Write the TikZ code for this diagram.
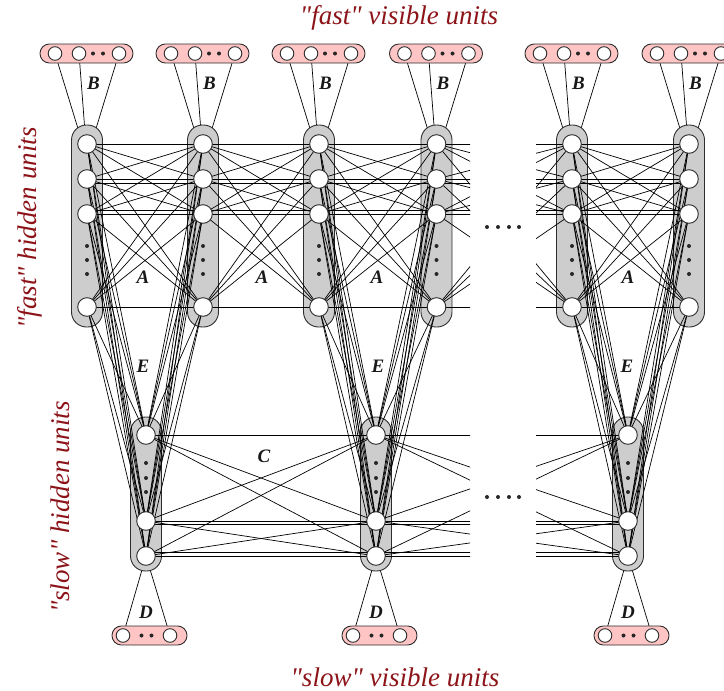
\documentclass[tikz,border=0pt]{standalone}
\usepackage{fontspec}
\setmainfont{Liberation Serif}[Ligatures=TeXOff]
\definecolor{titlered}{RGB}{140,20,25}
\definecolor{pinkfill}{RGB}{255,196,196}
\definecolor{colgray}{RGB}{205,205,205}
\definecolor{edgec}{RGB}{45,45,45}
\pgfdeclarelayer{lzero}
\pgfdeclarelayer{lone}
\pgfdeclarelayer{ltwo}
\pgfsetlayers{lzero,lone,ltwo,main}
\tikzset{
  unit/.style={circle,draw=edgec,fill=white,line width=0.9pt,minimum size=18.6pt,inner sep=0pt},
  vunit/.style={circle,draw=edgec,fill=white,line width=0.9pt,minimum size=13.6pt,inner sep=0pt},
  colbox/.style={draw=edgec,fill=colgray,line width=0.9pt,rounded corners=15pt,inner sep=0pt},
  visbox/.style={draw=edgec,fill=pinkfill,line width=0.9pt,rounded corners=9.4pt,inner sep=0pt,minimum height=19pt},
  conn/.style={line width=0.7pt,black},
  dotmark/.style={circle,fill=black!85,inner sep=0pt,minimum size=4pt},
  lab/.style={font=\fontsize{19}{19}\selectfont\bfseries\itshape,text=black!90,inner sep=0pt},
  ttl/.style={font=\fontsize{27}{27}\selectfont\itshape,text=titlered,inner sep=0pt}
}
\begin{document}
\begin{tikzpicture}[x=1pt,y=-1pt]
\useasboundingbox (0,0) rectangle (724,691);
% ---------- fast hidden columns and fast visible units
\foreach \c/\x in {1/87,2/203,3/319,4/436.5,5/572,6/689} {
  \foreach \r/\y in {1/144,2/179,3/214,4/307}
    \node[unit] (f\c-\r) at (\x,\y) {};
  \foreach \k/\y in {1/246,2/260,3/274}
    \node[dotmark] (fd\c-\k) at (\x,\y) {};
  \coordinate (bt\c) at (\x,158);
  \begin{pgfonlayer}{lone}
    \node[colbox,minimum width=31pt,minimum height=202pt] (fcol\c) at (\x,226) {};
    \node[visbox,minimum width=93pt] (vb\c) at (\x-0.5,53.5) {};
  \end{pgfonlayer}
  \node[vunit] (v\c-1) at (\x-32,53.5) {};
  \node[vunit] (v\c-2) at (\x-8,53.5) {};
  \node[vunit] (v\c-3) at (\x+32,53.5) {};
  \node[dotmark] (vd\c-1) at (\x+6,53.5) {};
  \node[dotmark] (vd\c-2) at (\x+16,53.5) {};
  \node[lab] (B\c) at (\x+6.5,83) {B};
}
% ---------- slow hidden columns and slow visible units
\foreach \s/\x in {1/146,2/376,3/628} {
  \foreach \r/\y in {1/435,2/521,3/556}
    \node[unit] (s\s-\r) at (\x,\y) {};
  \foreach \k/\y in {1/463,2/478,3/492}
    \node[dotmark] (sd\s-\k) at (\x,\y) {};
  \begin{pgfonlayer}{lone}
    \node[colbox,minimum width=31pt,minimum height=154pt] (scol\s) at (\x,494) {};
    \node[visbox,minimum width=75pt] (svb\s) at (\x+3.5,635.5) {};
  \end{pgfonlayer}
  \node[vunit] (sv\s-1) at (\x-23,635.5) {};
  \node[vunit] (sv\s-2) at (\x+24,635.5) {};
  \node[dotmark] (svd\s-1) at (\x-4.5,635.5) {};
  \node[dotmark] (svd\s-2) at (\x+5.5,635.5) {};
  \node[lab] (D\s) at (\x,612) {D};
}
% ---------- B and D connections (under the columns)
\begin{pgfonlayer}{lzero}
  \foreach \c in {1,...,6}
    \foreach \k in {1,2,3}
      \draw[conn] (v\c-\k.center) -- (bt\c);
  \foreach \s in {1,2,3}
    \foreach \k in {1,2}
      \draw[conn] (s\s-3.center) -- (sv\s-\k.center);
\end{pgfonlayer}
% ---------- A, C, E connections
\begin{pgfonlayer}{ltwo}
  \foreach \a/\b in {1/2,2/3,3/4,5/6} {
    \foreach \i in {1,...,4}
      \foreach \j in {1,...,4}
        \draw[conn] (f\a-\i.center) -- (f\b-\j.center);
    \draw[conn] ([yshift=-4pt]f\a-2.center) -- ([yshift=-4pt]f\b-2.center);
    \draw[conn] ([yshift=4pt]f\a-3.center) -- ([yshift=4pt]f\b-3.center);
  }
  \begin{scope}
    \clip (0,0) rectangle (470,691);
    \foreach \i in {1,...,4}
      \foreach \j in {1,...,4}
        \draw[conn] (f4-\i.center) -- (f5-\j.center);
    \draw[conn] ([yshift=-4pt]f4-2.center) -- ([yshift=-4pt]f5-2.center);
    \draw[conn] ([yshift=4pt]f4-3.center) -- ([yshift=4pt]f5-3.center);
    \foreach \i in {1,2,3}
      \foreach \j in {1,2,3}
        \draw[conn] (s2-\i.center) -- (s3-\j.center);
    \draw[conn] ([yshift=-3.5pt]s2-2.center) -- ([yshift=-3.5pt]s3-2.center);
    \draw[conn] ([yshift=3.5pt]s2-3.center) -- ([yshift=3.5pt]s3-3.center);
  \end{scope}
  \begin{scope}
    \clip (536,0) rectangle (724,691);
    \foreach \i in {1,...,4}
      \foreach \j in {1,...,4}
        \draw[conn] (f4-\i.center) -- (f5-\j.center);
    \draw[conn] ([yshift=-4pt]f4-2.center) -- ([yshift=-4pt]f5-2.center);
    \draw[conn] ([yshift=4pt]f4-3.center) -- ([yshift=4pt]f5-3.center);
    \foreach \i in {1,2,3}
      \foreach \j in {1,2,3}
        \draw[conn] (s2-\i.center) -- (s3-\j.center);
    \draw[conn] ([yshift=-3.5pt]s2-2.center) -- ([yshift=-3.5pt]s3-2.center);
    \draw[conn] ([yshift=3.5pt]s2-3.center) -- ([yshift=3.5pt]s3-3.center);
  \end{scope}
  \foreach \i in {1,2,3}
    \foreach \j in {1,2,3}
      \draw[conn] (s1-\i.center) -- (s2-\j.center);
  \draw[conn] ([yshift=-3.5pt]s1-2.center) -- ([yshift=-3.5pt]s2-2.center);
  \draw[conn] ([yshift=3.5pt]s1-3.center) -- ([yshift=3.5pt]s2-3.center);
  \foreach \s/\a/\b in {1/1/2,2/3/4,3/5/6}
    \foreach \i in {1,...,4}
      \foreach \j in {1,2,3} {
        \draw[conn] (f\a-\i.center) -- (s\s-\j.center);
        \draw[conn] (f\b-\i.center) -- (s\s-\j.center);
      }
\end{pgfonlayer}
% ---------- labels
\node[lab] (A1) at (143,277) {A};
\node[lab] (A2) at (262,277) {A};
\node[lab] (A3) at (377,277) {A};
\node[lab] (A4) at (628,277) {A};
\node[lab] (E1) at (143,366) {E};
\node[lab] (E2) at (378,366) {E};
\node[lab] (E3) at (627,366) {E};
\node[lab] (C1) at (264,456) {C};
% ---------- gap dots
\foreach \k/\x in {1/487,2/498,3/509,4/519} {
  \node[dotmark] (gf\k) at (\x,227) {};
  \node[dotmark] (gs\k) at (\x,497) {};
}
% ---------- titles
\node[ttl] (tfv) at (399,18) {"fast" visible units};
\node[ttl] (tsv) at (395,677) {"slow" visible units};
\node[ttl,rotate=90] (tfh) at (30,228) {"fast" hidden units};
\node[ttl,rotate=90] (tsh) at (60,507) {"slow" hidden units};
\end{tikzpicture}
\end{document}
